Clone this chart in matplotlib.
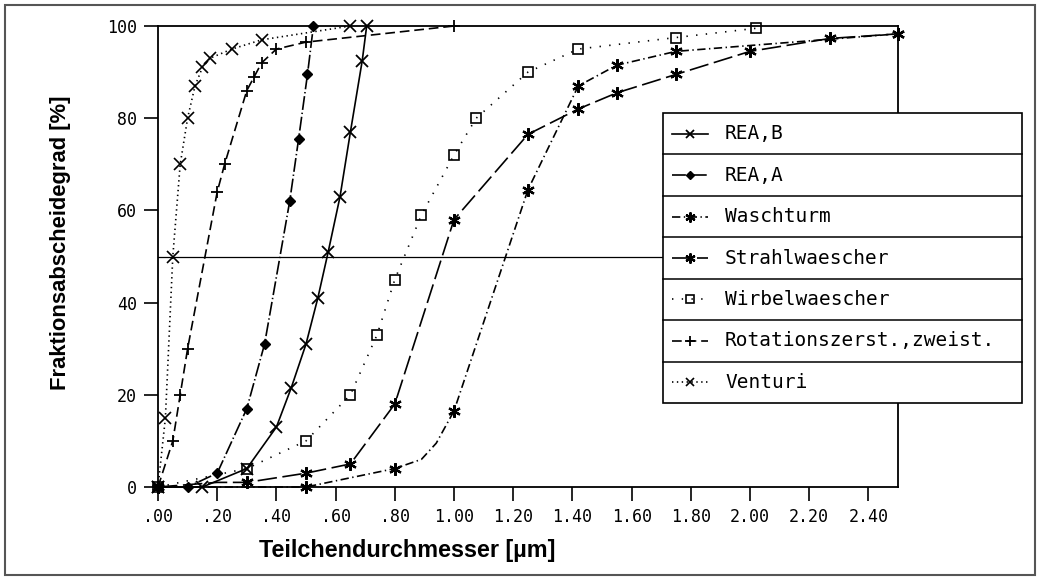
import matplotlib
matplotlib.use("Agg")
import matplotlib.pyplot as plt
from matplotlib import font_manager as fm
from matplotlib.lines import Line2D
from matplotlib.patches import Rectangle

# ---------------- data ----------------
rea_b_x = [0.0, 0.15, 0.30, 0.40, 0.45, 0.50, 0.54, 0.575, 0.615, 0.65, 0.69, 0.705]
rea_b_y = [0, 0, 4, 13, 21.5, 31, 41, 51, 63, 77, 92.5, 100]

rea_a_x = [0.0, 0.10, 0.20, 0.30, 0.36, 0.445, 0.475, 0.505, 0.525]
rea_a_y = [0, 0, 3, 17, 31, 62, 75.5, 89.5, 100]

wasch_x = [0.0, 0.50, 0.80, 0.89, 0.94, 1.00, 1.25, 1.42, 1.55, 1.75, 2.50]
wasch_y = [0, 0, 4, 6, 9.5, 16.5, 64.5, 87, 91.5, 94.5, 98.3]
wasch_marked = [0, 1, 2, 5, 6, 7, 8, 9, 10]

strahl_x = [0.0, 0.20, 0.30, 0.50, 0.65, 0.80, 1.00, 1.25, 1.42, 1.55, 1.75, 2.00, 2.27, 2.50]
strahl_y = [0, 1, 1, 3, 5, 18, 58, 76.5, 82, 85.5, 89.5, 94.5, 97.3, 98.3]
strahl_marked = [0, 2, 3, 4, 5, 6, 7, 8, 9, 10, 11, 12, 13]

wirbel_x = [0.0, 0.30, 0.50, 0.65, 0.74, 0.80, 0.89, 1.00, 1.075, 1.25, 1.42, 1.75, 2.02]
wirbel_y = [0, 4, 10, 20, 33, 45, 59, 72, 80, 90, 95, 97.5, 99.5]

rotation_x = [0.0, 0.05, 0.075, 0.10, 0.20, 0.225, 0.30, 0.325, 0.35, 0.40, 0.50, 1.00]
rotation_y = [0, 10, 20, 30, 64, 70, 86, 89, 92, 95, 96.5, 100]

venturi_x = [0.0, 0.025, 0.05, 0.075, 0.10, 0.125, 0.15, 0.175, 0.25, 0.35, 0.65]
venturi_y = [0, 15, 50, 70, 80, 87, 91, 93, 95, 97, 100]

series_names = ["REA,B", "REA,A", "Waschturm", "Strahlwaescher",
                "Wirbelwaescher", "Rotationszerst.,zweist.", "Venturi"]

x_ticks = [0.0, 0.2, 0.4, 0.6, 0.8, 1.0, 1.2, 1.4, 1.6, 1.8, 2.0, 2.2, 2.4]
x_tick_labels = [".00", ".20", ".40", ".60", ".80", "1.00", "1.20", "1.40",
                 "1.60", "1.80", "2.00", "2.20", "2.40"]
y_ticks = [0, 20, 40, 60, 80, 100]
y_tick_labels = ["0", "20", "40", "60", "80", "100"]

# ---------------- styles ----------------
plt.rcParams['lines.scale_dashes'] = False
MONO = 'DejaVu Sans Mono'
W, H = 1040, 580

# bold Arial-like font (avoid the Narrow variant)
bold_path = None
for f in fm.fontManager.ttflist:
    if f.name == 'Liberation Sans' and f.weight in (700, 'bold') and f.style == 'normal' \
            and 'Narrow' not in f.fname:
        bold_path = f.fname
        break
if bold_path:
    xlabel_font = fm.FontProperties(fname=bold_path, size=16.8)
    ylabel_font = fm.FontProperties(fname=bold_path, size=15.8)
else:
    xlabel_font = fm.FontProperties(family='DejaVu Sans', weight='bold', size=15)
    ylabel_font = fm.FontProperties(family='DejaVu Sans', weight='bold', size=14)

styles = [
    dict(ls='-', marker='x', ms=8, mew=1.3, mfc='k'),
    dict(ls=(0, (10, 2, 1, 2)), marker='D', ms=5, mew=1.0, mfc='k'),
    dict(ls=(0, (6, 2.5, 1, 2.5)), marker=(6, 2, 0), ms=9, mew=1.6, mfc='k'),
    dict(ls=(0, (14, 4)), marker=(6, 2, 0), ms=9, mew=1.6, mfc='k'),
    dict(ls=(0, (1, 6)), marker='s', ms=7, mew=1.2, mfc='none'),
    dict(ls=(0, (7, 3.5)), marker='+', ms=9, mew=1.3, mfc='k'),
    dict(ls=(0, (1, 2.5)), marker='x', ms=8, mew=1.2, mfc='k'),
]
data = [(rea_b_x, rea_b_y), (rea_a_x, rea_a_y), (wasch_x, wasch_y),
        (strahl_x, strahl_y), (wirbel_x, wirbel_y), (rotation_x, rotation_y),
        (venturi_x, venturi_y)]
marks = [None, None, wasch_marked, strahl_marked, None, None, None]

fig = plt.figure(figsize=(W / 100, H / 100), dpi=100)
ax = fig.add_axes([158 / W, 1 - 487 / H, (898 - 158) / W, (487 - 26) / H])

# 50 % reference line
ax.axhline(50, color='k', lw=0.9, zorder=1)

for (xs, ys), st, mk in zip(data, styles, marks):
    ax.plot(xs, ys, color='k', lw=1.2, linestyle=st['ls'], marker=st['marker'],
            ms=st['ms'], mew=st['mew'], mfc=st['mfc'], mec='k',
            markevery=mk, clip_on=False, zorder=3)

ax.set_xlim(0, 2.5)
ax.set_ylim(0, 100)
ax.set_xticks(x_ticks)
ax.set_xticklabels(x_tick_labels, fontfamily=MONO, fontsize=12)
ax.set_yticks(y_ticks)
ax.set_yticklabels(y_tick_labels, fontfamily=MONO, fontsize=12)
ax.tick_params(direction='out', length=10, width=1.2, color='k', pad=5)
for sp in ax.spines.values():
    sp.set_linewidth(1.3)
    sp.set_color('k')

ax.set_xlabel("Teilchendurchmesser [µm]", fontproperties=xlabel_font)
ax.set_ylabel("Fraktionsabscheidegrad [%]", fontproperties=ylabel_font)
ax.xaxis.set_label_coords((407 - 158) / 740, -0.112)
ax.yaxis.set_label_coords(-0.118, (487 - 243) / 461)

# ---------------- legend (table style) ----------------
def fx(px):
    return px / W

def fy(py):
    return 1 - py / H

L, R, T, B = 663, 1022, 113, 403
fig.add_artist(Rectangle((fx(L), fy(B)), fx(R) - fx(L), fy(T) - fy(B),
                         transform=fig.transFigure, facecolor='white',
                         edgecolor='k', lw=1.2, zorder=5))
row_h = (B - T) / len(series_names)
for i, (name, st) in enumerate(zip(series_names, styles)):
    if i > 0:
        yline = T + i * row_h
        fig.add_artist(Line2D([fx(L), fx(R)], [fy(yline), fy(yline)],
                              transform=fig.transFigure, color='k', lw=1.1, zorder=6))
    yc = T + (i + 0.5) * row_h
    fig.add_artist(Line2D([fx(672), fx(708)], [fy(yc), fy(yc)],
                          transform=fig.transFigure, color='k', lw=1.2,
                          linestyle=st['ls'], zorder=6))
    fig.add_artist(Line2D([fx(690)], [fy(yc)], transform=fig.transFigure,
                          color='k', marker=st['marker'], ms=st['ms'] * 0.8,
                          mew=st['mew'], mfc=st['mfc'], mec='k', lw=0, zorder=7))
    fig.text(fx(725), fy(yc), name, fontfamily=MONO, fontsize=14,
             va='center', ha='left', zorder=7)

# figure border
fig.add_artist(Rectangle((fx(5), fy(575)), fx(1035) - fx(5), fy(5) - fy(575),
                         transform=fig.transFigure, facecolor='none',
                         edgecolor='#555555', lw=1.5, zorder=10))

fig.savefig("out.png", dpi=100)
